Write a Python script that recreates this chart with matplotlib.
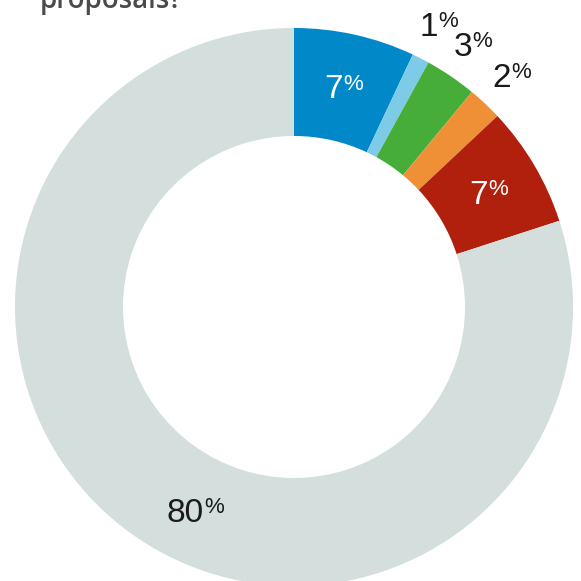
import numpy as np
import matplotlib
matplotlib.use("Agg")
import matplotlib.pyplot as plt

# share of answers per option, clockwise from the top
shares = [7, 1, 3, 2, 7, 80]
colors = ["#0088c8", "#7ecbe8", "#46ae38", "#ef8f36", "#b0200c", "#d4dedd"]
label_colors = ["white", "#1a1a1a", "#1a1a1a", "#1a1a1a", "white", "#1a1a1a"]
label_inside = [True, False, False, False, True, True]
title = "proposals?"

W = H = 581
fig = plt.figure(figsize=(W / 100, H / 100), dpi=100)
ax = fig.add_axes([0, 0, 1, 1])

# axes span the whole canvas, so one data unit is one pixel
cx, cy = 294, H - 307
r_out, r_in = 279, 171
wedges, _ = ax.pie(shares, colors=colors, startangle=90, counterclock=False,
                   center=(cx, cy), radius=r_out, frame=True,
                   wedgeprops=dict(width=r_out - r_in, linewidth=0))
ax.set_xlim(0, W)
ax.set_ylim(0, H)
ax.set_aspect("equal")
ax.axis("off")

fig.text(40 / W, 1 - 8 / H, title, fontsize=20, fontweight="semibold",
         family="Open Sans", color="#4a4a4a", ha="left", va="baseline")

fig.canvas.draw()
renderer = fig.canvas.get_renderer()
num_size, pct_size = 24, 16
cap_px = 0.716 * num_size * fig.dpi / 72


def pct_label(x, y, value, color):
    # big number plus a smaller, top-aligned percent sign, centred on (x, y)
    base = y - cap_px / 2
    t1 = ax.text(x, base, str(value), fontsize=num_size, family="Liberation Sans",
                 color=color, ha="right", va="baseline")
    t2 = ax.annotate("%", (x, base), xytext=(0.3, 0.716 * num_size - 0.73 * pct_size + 0.8),
                     textcoords="offset points", fontsize=pct_size,
                     family="Liberation Sans", color=color, ha="left", va="baseline")
    w1 = t1.get_window_extent(renderer).width
    w2 = t2.get_window_extent(renderer).width
    shift = (w2 - w1) / 2
    t1.set_position((x - shift, base))
    t2.xy = (x - shift, base)


for w, v, c, inside in zip(wedges, shares, label_colors, label_inside):
    mid = np.deg2rad((w.theta1 + w.theta2) / 2)
    if v == max(shares):
        mid = np.deg2rad(90 - 206)
    r = 226 if inside else 318
    pct_label(cx + r * np.cos(mid), cy + r * np.sin(mid), v, c)

fig.savefig("out.png", dpi=100)
